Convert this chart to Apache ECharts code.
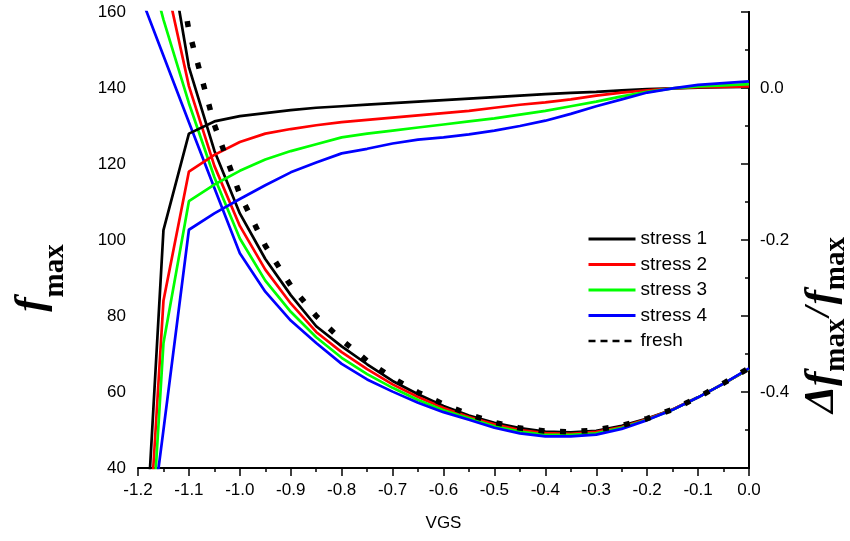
<!DOCTYPE html>
<html>
<head>
<meta charset="utf-8">
<script src="https://cdn.jsdelivr.net/npm/echarts@6/dist/echarts.min.js"></script>
<style>
  html, body { margin: 0; padding: 0; background: #fff; overflow: hidden; }
  #chart { width: 850px; height: 541px; }
</style>
</head>
<body>
<div id="chart"></div>
<script>
// Gate voltage sweep (V)
const vgs = [-1.2, -1.15, -1.1, -1.05, -1.0, -0.95, -0.9, -0.85, -0.8, -0.75, -0.7, -0.65, -0.6,
             -0.55, -0.5, -0.45, -0.4, -0.35, -0.3, -0.25, -0.2, -0.15, -0.1, -0.05, 0.0];

// fmax (left axis, GHz) for each stress condition and the fresh device
const fmaxStress1 = [215, 185, 145.5, 123.5, 107, 95, 85.5, 77.3, 72, 67.3, 62.9, 59.4, 56.3,
                     53.8, 51.9, 50.5, 49.6, 49.4, 49.8, 51.1, 53, 55.4, 58.6, 62.2, 66];
const fmaxStress2 = [199, 171, 140.5, 119.5, 103.7, 92.2, 83.3, 75.8, 70.5, 66, 62, 58.7, 55.8,
                     53.4, 51.5, 50, 49.2, 49, 49.5, 50.8, 52.9, 55.4, 58.6, 62.2, 66];
const fmaxStress3 = [183, 158, 136, 116.5, 100.4, 89.3, 81.1, 74.4, 69, 64.7, 61.1, 57.9, 55.2,
                     53.1, 51, 49.6, 48.7, 48.7, 49.1, 50.6, 52.7, 55.3, 58.6, 62.2, 66.1];
const fmaxStress4 = [166, 148.5, 131, 113.7, 96.5, 86.4, 78.8, 72.9, 67.4, 63.3, 60.1, 57.2, 54.7,
                     52.7, 50.6, 49.1, 48.3, 48.3, 48.8, 50.3, 52.6, 55.3, 58.6, 62.2, 66.2];
const fmaxFresh   = [230, 195, 155, 130.3, 112, 98.5, 88, 80, 73.7, 68.2, 63.7, 59.9, 56.8,
                     54.1, 52, 50.5, 49.7, 49.5, 50, 51.2, 53, 55.4, 58.6, 62.3, 66.3];

// Relative degradation delta-fmax / fmax (right axis)
const dStress1 = [-0.78, -0.187, -0.060, -0.044, -0.037, -0.033, -0.029, -0.026, -0.024, -0.022, -0.020, -0.018, -0.016,
                  -0.014, -0.012, -0.010, -0.008, -0.0065, -0.005, -0.003, -0.0015, -0.0005, 0.0005, 0.001, 0.0015];
const dStress2 = [-0.83, -0.28, -0.110, -0.088, -0.071, -0.060, -0.054, -0.049, -0.045, -0.042, -0.039, -0.036, -0.033,
                  -0.030, -0.026, -0.022, -0.019, -0.015, -0.010, -0.006, -0.003, -0.0005, 0.001, 0.0015, 0.002];
const dStress3 = [-0.885, -0.336, -0.149, -0.127, -0.109, -0.094, -0.083, -0.074, -0.065, -0.060, -0.056, -0.052, -0.048,
                  -0.044, -0.040, -0.035, -0.030, -0.024, -0.018, -0.011, -0.005, -0.0005, 0.002, 0.0035, 0.005];
const dStress4 = [-0.71, -0.45, -0.1865, -0.165, -0.146, -0.128, -0.111, -0.098, -0.086, -0.080, -0.073, -0.068, -0.065,
                  -0.061, -0.056, -0.050, -0.043, -0.034, -0.024, -0.015, -0.006, -0.0005, 0.004, 0.0065, 0.0087];

const names  = ['stress 1', 'stress 2', 'stress 3', 'stress 4', 'fresh'];
const colors = ['#000000', '#ff0000', '#00ff00', '#0000ff', '#000000'];

const sans = "'Liberation Sans', Arial, sans-serif";
const serif = "'Liberation Serif', 'Times New Roman', serif";

function pairs(ys) { return vgs.map((x, i) => [x, ys[i]]); }

function solid(name, color, ys, axis) {
  return {
    name: name, type: 'line', yAxisIndex: axis, data: pairs(ys),
    symbol: 'none', smooth: false, clip: true,
    lineStyle: { color: color, width: 2.7 },
    itemStyle: { color: color }
  };
}

const series = [
  solid(names[0], colors[0], fmaxStress1, 0),
  solid(names[1], colors[1], fmaxStress2, 0),
  solid(names[2], colors[2], fmaxStress3, 0),
  solid(names[3], colors[3], fmaxStress4, 0),
  solid(names[0], colors[0], dStress1, 1),
  solid(names[1], colors[1], dStress2, 1),
  solid(names[2], colors[2], dStress3, 1),
  solid(names[3], colors[3], dStress4, 1),
  {
    name: names[4], type: 'line', yAxisIndex: 0, data: pairs(fmaxFresh),
    symbol: 'none', clip: true,
    lineStyle: { color: '#000', width: 5.5, type: [6, 15.5] },
    itemStyle: { color: '#000' }
  }
];

const chart = echarts.init(document.getElementById('chart'), null,
  { renderer: 'canvas', width: 850, height: 541 });

function fmtX(v) {
  if (Math.abs(v) < 1e-9) return '0.0';
  return v.toFixed(1);
}

// Rich styles for the axis titles: italic f / delta plus a bold "max" subscript
function titleRich(subDrop) {
  return {
    f: { fontFamily: serif, fontStyle: 'italic', fontWeight: 'bold', fontSize: 43, color: '#000',
         verticalAlign: 'top', lineHeight: 44 },
    s: { fontFamily: serif, fontStyle: 'italic', fontWeight: 'bold', fontSize: 36, color: '#000',
         verticalAlign: 'top', lineHeight: 40, padding: [2, 2, 0, 2] },
    m: { fontFamily: serif, fontWeight: 'bold', fontSize: 29, color: '#000',
         verticalAlign: 'top', lineHeight: 29, padding: [subDrop, 0, 0, 0] }
  };
}

chart.setOption({
  animation: false,
  backgroundColor: '#fff',
  grid: { left: 138, right: 101, top: 12, bottom: 73, containLabel: false, outerBoundsMode: 'none' },
  legend: {
    orient: 'vertical', left: 582, top: 224,
    itemWidth: 47, itemHeight: 20, itemGap: 5.5,
    itemStyle: { opacity: 0 },
    lineStyle: { width: 3 },
    textStyle: { fontFamily: sans, fontSize: 19, color: '#000', lineHeight: 20 },
    data: [
      { name: names[0] }, { name: names[1] }, { name: names[2] }, { name: names[3] },
      { name: names[4], lineStyle: { width: 2.5, type: [7, 5] } }
    ],
    selectedMode: false
  },
  xAxis: {
    type: 'value', min: -1.2, max: 0, interval: 0.1,
    name: 'VGS', nameLocation: 'middle', nameGap: 47,
    nameTextStyle: { fontFamily: sans, fontSize: 17, color: '#000' },
    axisLine: { onZero: false, lineStyle: { color: '#000', width: 2 } },
    axisTick: { show: true, length: 8, lineStyle: { color: '#000', width: 1.5 } },
    minorTick: { show: true, splitNumber: 2, length: 4, lineStyle: { color: '#000', width: 1.5 } },
    axisLabel: { margin: 14, fontFamily: sans, fontSize: 17, color: '#000', formatter: fmtX },
    splitLine: { show: false }
  },
  yAxis: [
    {
      type: 'value', position: 'left', min: 40, max: 160, interval: 20,
      name: '{f|f}{m|max}', nameLocation: 'middle', nameRotate: 90, nameGap: 84,
      nameTextStyle: { rich: titleRich(31), padding: [0, 76, 0, 0] },
      axisLine: { show: true, lineStyle: { color: '#000', width: 2 } },
      axisTick: { show: true, length: 8, lineStyle: { color: '#000', width: 1.5 } },
      minorTick: { show: true, splitNumber: 2, length: 4, lineStyle: { color: '#000', width: 1.5 } },
      axisLabel: { margin: 12, fontFamily: sans, fontSize: 17, color: '#000' },
      splitLine: { show: false }
    },
    {
      type: 'value', position: 'right', min: -0.5, max: 0.1, interval: 0.1,
      name: '{f|\u0394f}{m|max}{s|/}{f|f}{m|max}', nameLocation: 'middle', nameRotate: 90, nameGap: 27,
      nameTextStyle: { rich: titleRich(22), padding: [0, 170, 0, 0] },
      axisLine: { show: true, lineStyle: { color: '#000', width: 2 } },
      axisTick: { show: true, inside: true, length: 7, lineStyle: { color: '#000', width: 1.5 } },
      axisLabel: {
        margin: 11, fontFamily: sans, fontSize: 17, color: '#000',
        formatter: function (v) {
          const k = Math.round(v * 10);
          if (k % 2 !== 0) return '';
          return k === 0 ? '0.0' : (k / 10).toFixed(1);
        }
      },
      splitLine: { show: false }
    }
  ],
  series: series
});
</script>
</body>
</html>
